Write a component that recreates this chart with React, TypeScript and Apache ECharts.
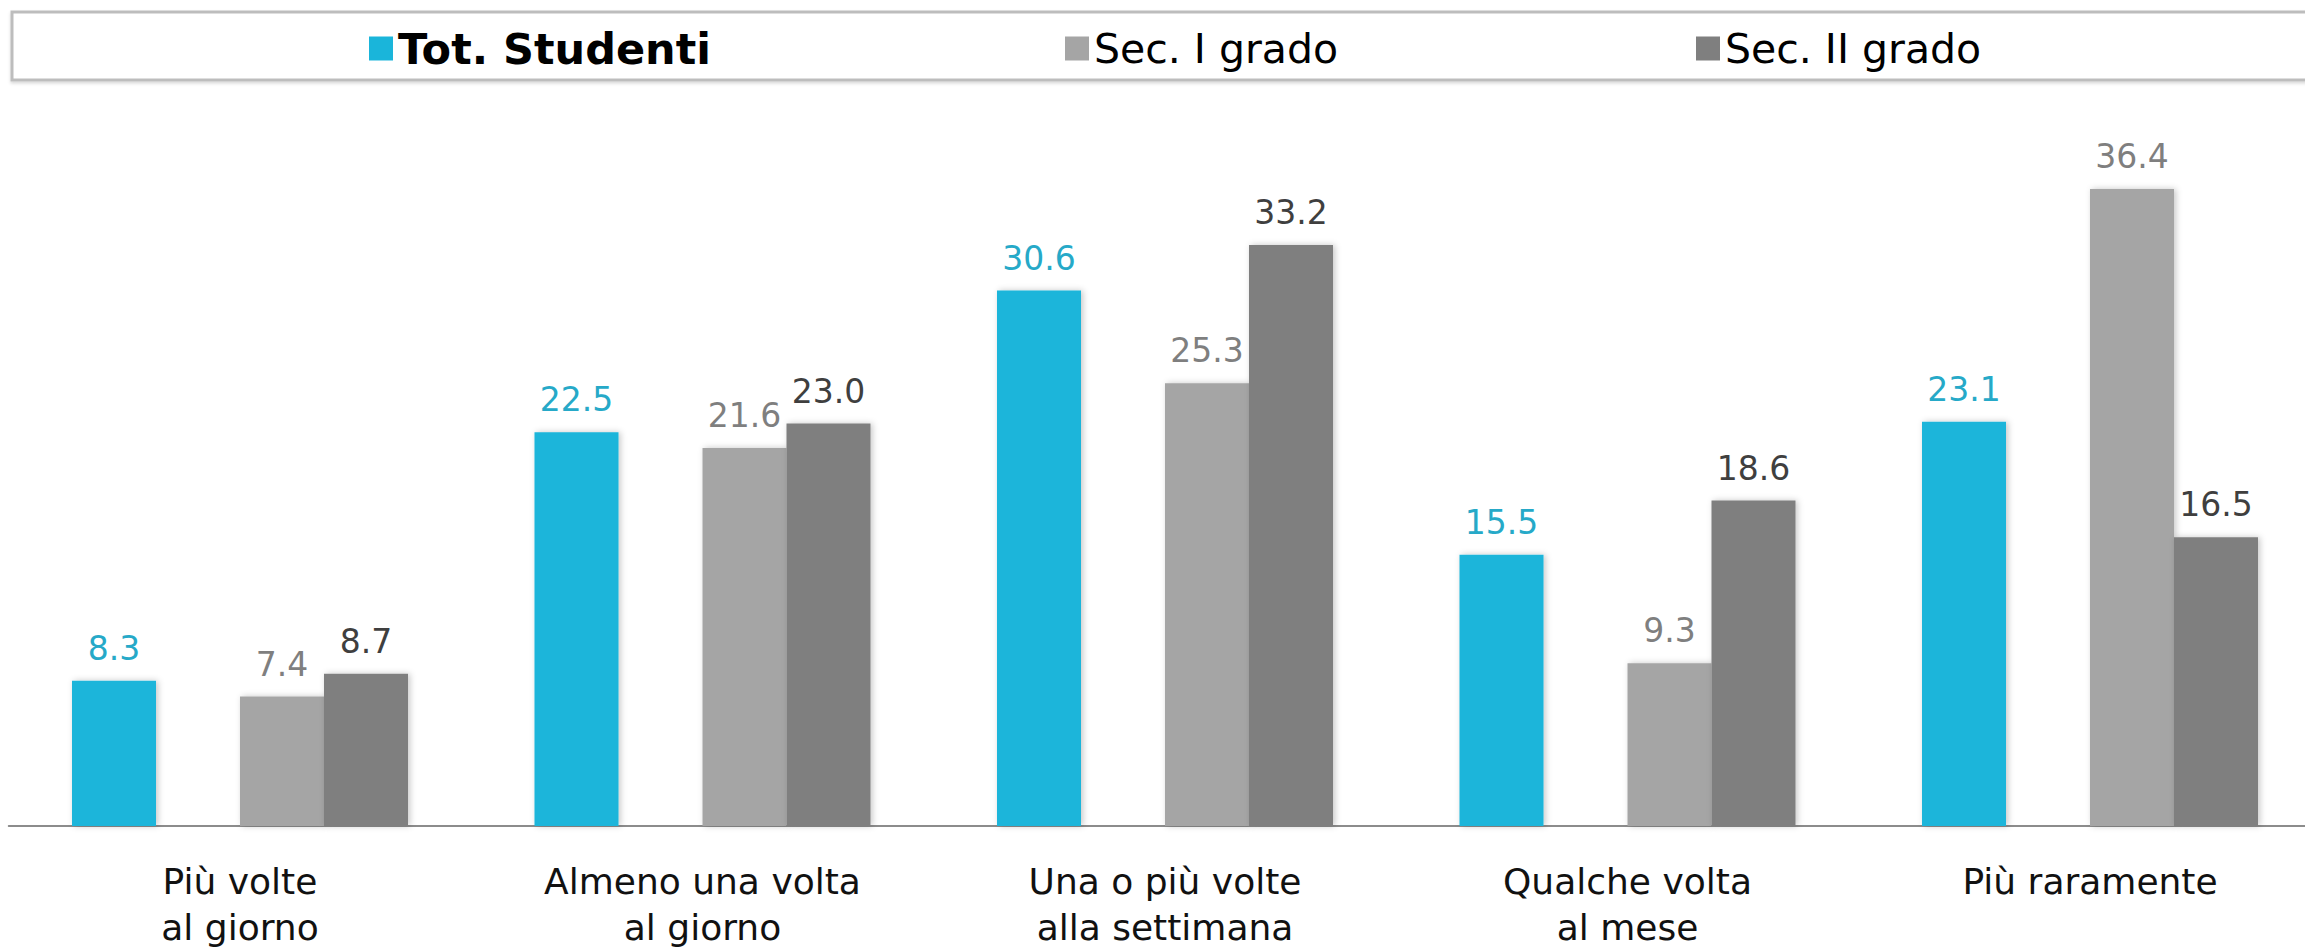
import React, { useEffect, useRef } from "react";
import * as echarts from "echarts";

const categories = [
  "Più volte\nal giorno",
  "Almeno una volta\nal giorno",
  "Una o più volte\nalla settimana",
  "Qualche volta\nal mese",
  "Più raramente",
];
const totStudenti = [8.3, 22.5, 30.6, 15.5, 23.1];
const secIGrado = [7.4, 21.6, 25.3, 9.3, 36.4];
const secIIGrado = [8.7, 23.0, 33.2, 18.6, 16.5];
const seriesNames = ["Tot. Studenti", "Sec. I grado", "Sec. II grado"];

const FONT = "DejaVu Sans";

export default function App() {
  const ref = useRef<HTMLDivElement>(null);
  useEffect(() => {
    if (!ref.current) return;
    const chart = echarts.init(ref.current, null, { renderer: "svg" });
    const shadow = {
      shadowColor: "rgba(0,0,0,0.22)",
      shadowBlur: 6,
      shadowOffsetX: 2,
      shadowOffsetY: 0,
    };
    const mkLabel = (color: string) => ({
      show: true,
      position: "top" as const,
      distance: 16,
      fontFamily: FONT,
      fontSize: 33,
      color,
      formatter: (p: any) => (p.value == null ? "" : Number(p.value).toFixed(1)),
    });
    const legendBase = {
      top: 23,
      itemWidth: 24,
      itemHeight: 24,
      itemGap: 6,
      icon: "rect",
      textStyle: { fontFamily: FONT, fontSize: 41, color: "#000" },
      selectedMode: false,
    };
    chart.setOption({
      animation: false,
      backgroundColor: "#fff",
      graphic: [
        {
          type: "rect",
          shape: { x: 12, y: 12, width: 2320, height: 68 },
          style: {
            fill: "#fff",
            stroke: "#bdbdbd",
            lineWidth: 3,
            shadowColor: "rgba(0,0,0,0.15)",
            shadowBlur: 3,
            shadowOffsetY: 2,
          },
          z: -10,
        },
      ],
      legend: [
        {
          ...legendBase,
          left: 364,
          top: 22,
          data: [seriesNames[0]],
          textStyle: { ...legendBase.textStyle, fontSize: 43, fontWeight: "bold" },
        },
        { ...legendBase, left: 1060, data: [seriesNames[1]] },
        { ...legendBase, left: 1691, data: [seriesNames[2]] },
      ],
      grid: {
        left: 8.75,
        right: -16.25,
        top: 126,
        bottom: 124,
        containLabel: false,
        outerBoundsMode: "none",
      },
      xAxis: {
        type: "category",
        data: categories,
        axisLine: { show: true, lineStyle: { color: "#8c8c8c", width: 2 } },
        axisTick: { show: false },
        axisLabel: {
          interval: 0,
          margin: 32,
          fontFamily: FONT,
          fontSize: 36,
          lineHeight: 46,
          color: "#111",
        },
      },
      yAxis: {
        type: "value",
        min: 0,
        max: 40,
        show: false,
        splitLine: { show: false },
      },
      series: [
        {
          name: seriesNames[0],
          type: "bar",
          barWidth: 84,
          barGap: "0%",
          data: totStudenti,
          itemStyle: { color: "#1AB5DA", ...shadow },
          label: mkLabel("#26A9C8"),
        },
        {
          name: "",
          type: "bar",
          barWidth: 84,
          barGap: "0%",
          data: totStudenti.map(() => null),
          itemStyle: { color: "transparent" },
        },
        {
          name: seriesNames[1],
          type: "bar",
          barWidth: 84,
          barGap: "0%",
          data: secIGrado,
          itemStyle: { color: "#A5A5A5", ...shadow },
          label: mkLabel("#7F7F7F"),
        },
        {
          name: seriesNames[2],
          type: "bar",
          barWidth: 84,
          barGap: "0%",
          data: secIIGrado,
          itemStyle: { color: "#7F7F7F", ...shadow },
          label: mkLabel("#3F3F3F"),
        },
      ],
    });
    return () => chart.dispose();
  }, []);
  return (
    <div
      ref={ref}
      style={{ position: "fixed", left: 0, top: 0, width: 2305, height: 950 }}
    />
  );
}
